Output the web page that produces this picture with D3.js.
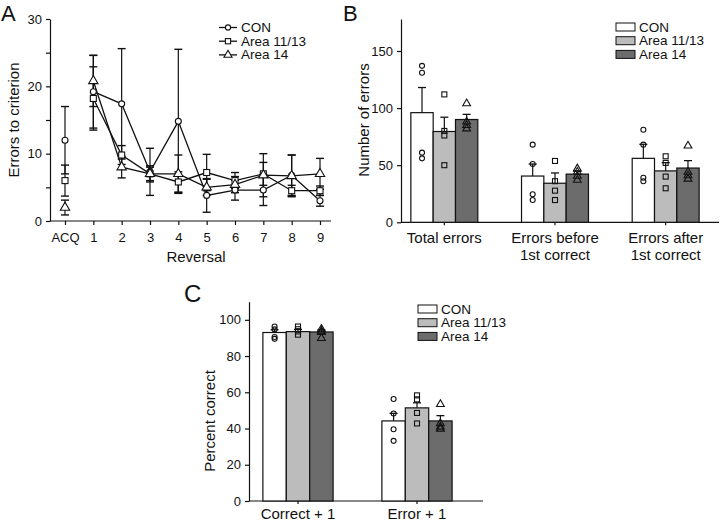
<!DOCTYPE html>
<html>
<head>
<meta charset="utf-8">
<script src="https://cdn.jsdelivr.net/npm/d3@7"></script>
<style>
  body { margin: 0; background: #fff; }
  svg text { font-family: "Liberation Sans", Arial, sans-serif; fill: #111; }
</style>
</head>
<body>
<div id="vis"></div>
<script>
// ---- data ----
const groups = ["CON", "Area 11/13", "Area 14"];
const barFill = ["#ffffff", "#bcbcbc", "#6c6c6c"];
const markers = ["circle", "square", "triangle"];

// Panel A: errors to criterion (x index 0 = ACQ)
const reversalLabels = ["ACQ", "1", "2", "3", "4", "5", "6", "7", "8", "9"];
const conMean  = [12.0, 19.2, 17.4, 7.3, 14.8, 3.8, 4.6, 4.6, 6.8, 3.0];
const conErr   = [5.0, 5.4, 8.2, 3.5, 10.7, 2.5, 1.5, 2.3, 3.0, 0.8];
const a1113Mean = [6.0, 18.2, 9.8, 7.0, 5.8, 7.2, 6.0, 7.0, 4.5, 4.5];
const a1113Err  = [2.3, 4.7, 1.4, 1.2, 1.5, 2.7, 1.2, 1.7, 0.8, 0.7];
const a14Mean  = [2.0, 20.8, 8.0, 7.0, 7.0, 5.0, 5.4, 6.8, 6.7, 7.0];
const a14Err   = [1.1, 3.8, 1.6, 1.0, 2.8, 1.2, 1.2, 3.2, 3.1, 2.3];

// Panel B: number of errors
const bCategories = ["Total errors", "Errors before|1st correct", "Errors after|1st correct"];
const bMeans = [[96, 79.5, 90], [40.5, 34.2, 42.2], [56, 45, 47.5]];
const bErr   = [[22, 12.5, 4.5], [10.5, 9, 2.5], [12.3, 7.2, 6.5]];
const bPoints = [
  [[137, 131, 61, 56], [112, 80, 76, 50], [104, 88, 85, 82]],
  [[68, 51, 24.5, 19.5], [53.7, 36, 27.7, 19.5], [47, 44, 40.5, 37]],
  [[81, 68, 39, 36], [57.8, 52, 40, 29.8], [67, 44, 41, 38]]
];

// Panel C: percent correct
const cCategories = ["Correct + 1", "Error + 1"];
const cMeans = [[93.0, 93.5, 93.3], [44.2, 51.4, 44.2]];
const cErr   = [[1.5, 1.2, 1.2], [4.2, 2.8, 2.9]];
const cPoints = [
  [[96.3, 94.7, 90.5, 89.5], [96.3, 94.8, 93.6, 91.8], [94.9, 93.8, 93.2, 89.8]],
  [[56.3, 48.3, 39.6, 33.2], [58.3, 56.1, 48.6, 42.8], [53.4, 42.8, 40.9, 39.8]]
];

const svg = d3.select("#vis").append("svg")
    .attr("width", 720).attr("height", 523);

function drawMarker(g, type, x, y, r, fill) {
  if (type === "circle") {
    g.append("circle").attr("cx", x).attr("cy", y).attr("r", r)
      .attr("fill", fill).attr("stroke", "#111").attr("stroke-width", 1.1);
  } else if (type === "square") {
    g.append("rect").attr("x", x - r).attr("y", y - r).attr("width", 2 * r).attr("height", 2 * r)
      .attr("fill", fill).attr("stroke", "#111").attr("stroke-width", 1.1);
  } else {
    const s = d3.symbol().type(d3.symbolTriangle).size(r * r * 4.2);
    g.append("path").attr("d", s()).attr("transform", `translate(${x},${y})`)
      .attr("fill", fill).attr("stroke", "#111").attr("stroke-width", 1.1);
  }
}

function styleAxis(g) {
  g.selectAll("path.domain").attr("stroke", "#111").attr("stroke-width", 1.2);
  g.selectAll(".tick line").attr("stroke", "#111").attr("stroke-width", 1.2);
  g.selectAll(".tick text").style("font-size", "13px");
}

// panel letters
[["A", 1, 21, 22], ["B", 343, 21, 22], ["C", 184, 302, 24]].forEach(([t, x, y, fs]) => {
  svg.append("text").attr("x", x).attr("y", y).text(t).style("font-size", fs + "px");
});

// ================= Panel A =================
{
  const g = svg.append("g");
  const x = d3.scaleLinear().domain([0, 9]).range([65, 320]);
  const y = d3.scaleLinear().domain([0, 30]).range([221, 19]);

  const ax = g.append("g").attr("transform", "translate(0,221)")
    .call(d3.axisBottom(x).tickValues(d3.range(10)).tickFormat(i => reversalLabels[i]).tickSize(4).tickSizeOuter(0));
  ax.select("path.domain").attr("d", "M50,0H331");
  styleAxis(ax);
  ax.selectAll(".tick text").attr("dy", "1.05em");

  const ay = g.append("g").attr("transform", "translate(50,0)")
    .call(d3.axisLeft(y).tickValues([0, 10, 20, 30]).tickSize(4).tickSizeOuter(0));
  styleAxis(ay);
  ay.selectAll(".tick text").attr("x", -8);
  g.append("g").attr("transform", "translate(50,0)")
    .call(d3.axisLeft(y).tickValues([5, 15, 25]).tickSize(4).tickFormat(""))
    .call(a => { a.select("path.domain").remove(); styleAxis(a); });

  g.append("text").attr("transform", `translate(19,120) rotate(-90)`)
    .attr("text-anchor", "middle").text("Errors to criterion").style("font-size", "15px");
  g.append("text").attr("x", 196).attr("y", 262)
    .attr("text-anchor", "middle").text("Reversal").style("font-size", "15px");

  const series = [[conMean, conErr], [a1113Mean, a1113Err], [a14Mean, a14Err]];
  // error bars
  series.forEach(([m, e]) => {
    m.forEach((v, i) => {
      const cx = x(i);
      g.append("line").attr("x1", cx).attr("x2", cx).attr("y1", y(v - e[i])).attr("y2", y(v + e[i]))
        .attr("stroke", "#111").attr("stroke-width", 1.2);
      [v - e[i], v + e[i]].forEach(c => {
        g.append("line").attr("x1", cx - 4).attr("x2", cx + 4).attr("y1", y(c)).attr("y2", y(c))
          .attr("stroke", "#111").attr("stroke-width", 1.4);
      });
    });
  });
  // lines (ACQ not connected)
  const line = d3.line().x((d, i) => x(i + 1)).y(d => y(d));
  series.forEach(([m]) => {
    g.append("path").attr("d", line(m.slice(1))).attr("fill", "none")
      .attr("stroke", "#111").attr("stroke-width", 1.3);
  });
  series.forEach(([m], si) => {
    m.forEach((v, i) => drawMarker(g, markers[si], x(i), y(v), 3, "#fff"));
  });

  // legend
  groups.forEach((name, i) => {
    const ly = 27.5 + i * 13.7;
    g.append("line").attr("x1", 219).attr("x2", 237).attr("y1", ly).attr("y2", ly)
      .attr("stroke", "#111").attr("stroke-width", 1.3);
    drawMarker(g, markers[i], 228, ly, 2.6, "#fff");
    g.append("text").attr("x", 241).attr("y", ly + 4.5).text(name).style("font-size", "13.5px");
  });
}

// generic grouped-bar panel
function barPanel(opts) {
  const g = svg.append("g");
  const x0 = d3.scaleBand().domain(opts.categories).range(opts.xRange)
    .paddingInner(opts.padInner).paddingOuter(opts.padInner / 2);
  const x1 = d3.scaleBand().domain(groups).range([0, x0.bandwidth()]);
  const y = d3.scaleLinear().domain(opts.yDomain).range(opts.yRange);

  const ax = g.append("g").attr("transform", `translate(0,${opts.yRange[0]})`)
    .call(d3.axisBottom(x0).tickSize(3).tickSizeOuter(0).tickFormat(""));
  ax.select("path.domain").attr("d", `M${opts.axisX[0]},0H${opts.axisX[1]}`);
  styleAxis(ax);

  opts.categories.forEach(c => {
    const lines = c.split("|");
    const t = g.append("text").attr("text-anchor", "middle")
      .attr("x", x0(c) + x0.bandwidth() / 2).attr("y", opts.yRange[0] + opts.labelOffset)
      .style("font-size", "15px");
    lines.forEach((l, i) => t.append("tspan").attr("x", x0(c) + x0.bandwidth() / 2)
      .attr("dy", i === 0 ? 0 : 16.5).text(l));
  });

  const ay = g.append("g").attr("transform", `translate(${opts.axisX[0]},0)`)
    .call(d3.axisLeft(y).tickValues(opts.ticks).tickSize(4).tickSizeOuter(0));
  styleAxis(ay);
  ay.selectAll(".tick text").attr("x", -8);

  g.append("text").attr("transform", `translate(${opts.labelX},${opts.labelY}) rotate(-90)`)
    .attr("text-anchor", "middle").text(opts.yLabel).style("font-size", "15px");

  opts.categories.forEach((c, ci) => {
    groups.forEach((grp, gi) => {
      const bx = x0(c) + x1(grp);
      const bw = x1.bandwidth();
      const v = opts.means[ci][gi];
      const top = v + opts.err[ci][gi];
      const cx = bx + bw / 2;
      g.append("line").attr("x1", cx).attr("x2", cx).attr("y1", y(v)).attr("y2", y(top))
        .attr("stroke", "#111").attr("stroke-width", 1.2);
      g.append("line").attr("x1", cx - 4).attr("x2", cx + 4).attr("y1", y(top)).attr("y2", y(top))
        .attr("stroke", "#111").attr("stroke-width", 1.3);
      g.append("rect").attr("x", bx).attr("y", y(v)).attr("width", bw)
        .attr("height", y(0) - y(v)).attr("fill", barFill[gi])
        .attr("stroke", "#111").attr("stroke-width", 1.2);
      opts.points[ci][gi].forEach(p => drawMarker(g, markers[gi], cx, y(p), 2.5, "none"));
    });
  });

  groups.forEach((name, i) => {
    const ly = opts.legend[1] + i * opts.legend[2];
    g.append("rect").attr("x", opts.legend[0]).attr("y", ly - 4).attr("width", 19).attr("height", 8)
      .attr("fill", barFill[i]).attr("stroke", "#111").attr("stroke-width", 1);
    g.append("text").attr("x", opts.legend[0] + 23).attr("y", ly + 4.5).text(name).style("font-size", "13.5px");
  });
}

// ================= Panel B =================
barPanel({
  categories: bCategories, xRange: [389, 721], padInner: 0.395,
  axisX: [401, 719], yDomain: [0, 178], yRange: [222.3, 19], ticks: [0, 50, 100, 150],
  yLabel: "Number of errors", labelX: 369, labelY: 120, labelOffset: 21,
  means: bMeans, err: bErr, points: bPoints, legend: [616, 27, 13.7]
});

// ================= Panel C =================
barPanel({
  categories: cCategories, xRange: [238.5, 476.5], padInner: 0.41,
  axisX: [249, 483], yDomain: [0, 110], yRange: [501, 301.7], ticks: [0, 20, 40, 60, 80, 100],
  yLabel: "Percent correct", labelX: 215, labelY: 421, labelOffset: 18,
  means: cMeans, err: cErr, points: cPoints, legend: [418, 309, 13.7]
});
</script>
</body>
</html>
